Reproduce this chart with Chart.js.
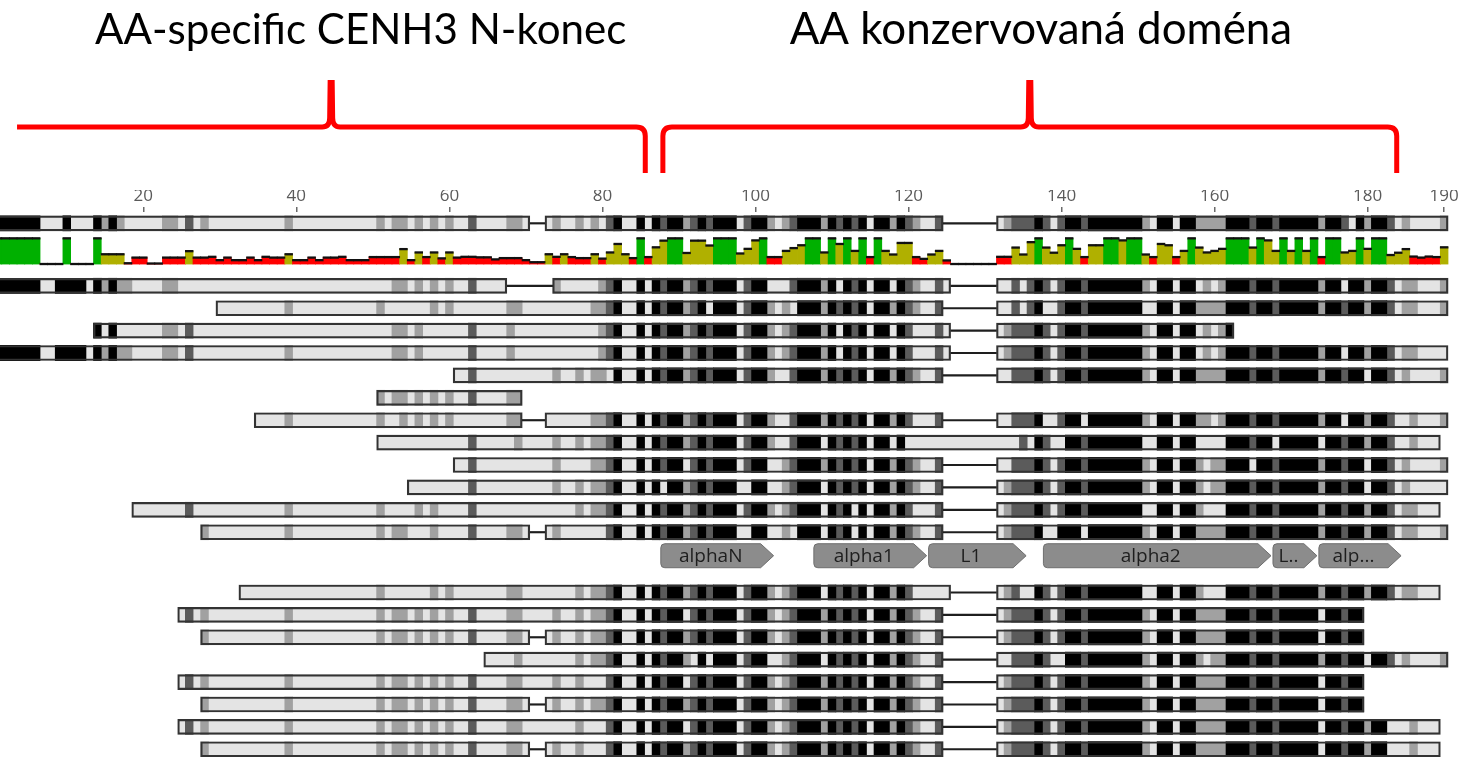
<!DOCTYPE html>
<html>
<head>
<meta charset="utf-8">
<title>CENH3 alignment</title>
<script src="https://cdn.jsdelivr.net/npm/chart.js@4.4.1/dist/chart.umd.min.js"></script>
<style>
  html, body { margin: 0; padding: 0; background: #fff; overflow: hidden; }
  #wrap { width: 1473px; height: 757px; }
</style>
</head>
<body>
<div id="wrap"><canvas id="aln" width="1473" height="757"></canvas></div>
<script>
// ---- data ----
const positionCount = 190;
const tickValues = [20, 40, 60, 80, 100, 120, 140, 160, 180, 190];

// % identity per column (1..190)
const identity = [
  100,100,100,100,100,100,0,0,0,100,
  0,0,0,100,38,38,38,3,25,25,
  2,2,25,25,25,50,25,25,28,15,
  25,15,15,25,15,28,25,25,38,15,
  15,25,15,25,25,28,15,15,15,27,
  27,27,27,58,15,45,27,45,22,45,
  25,28,28,26,26,18,23,23,23,15,
  7,7,38,28,38,27,23,23,38,21,
  45,78,38,23,100,27,65,91,100,100,
  43,91,91,72,100,100,100,41,59,92,
  100,27,27,51,62,73,100,100,45,100,
  78,100,51,100,27,100,51,37,82,82,
  27,20,37,51,14,0,0,0,0,0,
  0,28,28,64,37,85,100,64,44,73,
  100,59,27,73,73,100,100,92,100,100,
  37,27,78,73,27,51,100,64,45,51,
  59,100,100,100,64,100,92,51,100,51,
  100,51,100,27,100,100,45,51,100,59,
  100,100,35,44,58,29,25,29,27,65
];

// shading per column: K black, D dark grey, M grey, L light grey, - gap, . no sequence
const consensus =
  "KKKKKKLLLK LLLKMKMLLL LLMMLDLMLL LLLLLLLLML LLLLLLLLLL MLMMLMLMLM LLDLLLLMML --LMLLMLML DKLLKLKDKK MDKDKKKLDK KMLMDKKKMK DKDKLKKMKD MLLD------ -LMDDDKDLD KKDKKKKKKK MLKKLKKMMM MKKKDKKDKK KKKMKKDLKM KKDLMLLLLM";

const groupOne = [
  "KKKKKKLLKK KKLKMKMMLL LLMMLLLLLL LLLLLLLLLL LLLLLLLLLL LLMMLMLMLM LLDLLLL--- ---MLLLLLM DKLLKLKDKK MDKDKKKLDK KLLLDKKKMK LKDKLKKLKD MLLDL----- -LLDLDKDLD KKDKKKKKKK MLKKLKKLML MKKKDKKDKK KKKMKKLKKM KKDLMMLLLM",
  ".......... .......... .........L LLLLLLLLML LLLLLLLLLL MLLLLLLMLM LLLLLLLMML LLLLLLLLMM DKLLKLKDKK MDKLKKKLDK KMLMLKKKMK DKDKLKKMKD MLLD------ -LLDLDKLLD KKDKKKKKKK LLKKLKKMMM MKKKDKKDKK KKKMKKDKKM KKDLMMLLLM",
  ".......... ...KLKLLLL LLMMLDLLLL LLLLLLLLLL LLLLLLLLLL LLMMLMLLLL LLDLLLLMLL LLLLLLLLLM DKLLKLKDKK MDKDKKKLDK KMLMDKKKMK LKDKLKKLKD LLLDL----- -LMDDDKDLD KKDKKKKKKK MLKKLKKLML MK........",
  "KKKKKKLLKK KKLKMKMMLL LLMMLDLLLL LLLLLLLLML LLLLLLLLLL LLMMLMLLLL LLDLLLLMLL LLLLLLLLLM DKLLKLKDKK MDKDKKKLDK KMLMDKKKMK LKDKLKKLKD LLLDL----- -LMDDDKDLD KKDKKKKKKK MLKKLKKLML MKKKDKKDKK KKKMKKLKKM KKDLMMLLLL",
  ".......... .......... .......... .......... .......... .......... LLDLLLLLLL LLLMLLMLMM LKLLKLKDKK MDKDKKKLDK KMLLDKKKMK DKDKLKKMKD MLLD------ -LLDDDKDLD KKDKKKKKKK MLKKLKKMMM MKKKDKKDKK KKKMKKDKKL KKDLMLLLLM",
  ".......... .......... .......... .......... .......... MLMMLMLMLM LLDLLLLMM.",
  ".......... .......... .......... ....LLLLML LLLLLLLLLL MLLMLMLMLM LLLLLLLMM- --LLLLLLMM DKLLKLKDKK MDKDKKKLDK KMLLDKKKMK DKDKLKKMKD LLLD------ -LLDDDKLLD KKLKKKKKKK MLKKLKKMML MKKKDKKDKK KKKMKKLKKM KKDLLMLLLM",
  ".......... .......... .......... .......... .......... LLLLLLLLLL LLDLLLLLML LLLMLLMLMM DKLLKLKDKK MDKDKKKLDK KMLLDKKKLK DKDKLKKLKL LLLLLLLLLL LLLLDLKDLL KKDKKKKKKK LLKKLKKLLL LKKKDKKLKK KKKLKKDKKM KKDLLMLLL.",
  ".......... .......... .......... .......... .......... .......... LLDLLLLLLL LLLMLLLLMM DKLLKLKDKK LDKDKKKLDK KLLMDKKKMK DKDKLKKMKD MLLD------ -LLDDDKDLD KKDKKKKKKK MLKKLKKMLM MKKKLKKDKK KKKMKKDKKL KKDLMLLLLM",
  ".......... .......... .......... .......... .......... ....LLLLLL LLDLLLLLLL LLLMLLMLMM DKLLKLKLKK MDKDKKKLLK KLLMDKKKLK DKDKLKKMKD MLLD------ -LMDDDKDLD KKDKKKKKKK MLKKLKKMLM MKKKDKKDKK KKKMKKDKKL KKDLMLLLLL",
  ".......... ........LL LLLLLDLLLL LLLLLLLLML LLLLLLLLLL MLLLLMLMLL LLDLLLLLLL LLLLLLMLMM DKLLKLKDKK MDKDKKKLDK KMLMDKKKLK DKLKLKKMKD LLLD------ -LMDDDKDLD KKDKKKKKKK LLKKLKKMLL LKKKDKKDKK KKKMKKDKKM KKDLMMLLL.",
  ".......... .......... .......MLL LLLLLLLLML LLLLLLLLLL MLMMLLLMLL LLDLLLLMML --LMLLLLLL DKLLKLKDKK MDKDKKKLLK KLLMLKKKLK DKLKLKKMKD MLLD------ -LMDDDKLLK KKLKKKKKKK MLKKLKKMMM MKKKDKKDKK KKKMKKDKKM KKDLMMLLLM"
];

const groupTwo = [
  ".......... .......... .......... ..LLLLLLLL LLLLLLLLLL MLLLLLLMLM LLLLLLLMML LLLLLLMLMM DKLLKLKDKK MDKDKKKLDK KMLMDKKKLK DKDKLKKMKD LLLLL----- -LMDLLKDLD KKDKKKKKKK LLKKLKKMLL LKKKDKKDKK KKKMKKDKKM KKDLMMLLL.",
  ".......... .......... ....LDLMLL LLLLLLLLML LLLLLLLLLL MLMMLMLMLM LLDLLLLMML LLLMLLMLMM DKLLKLKDKK LDKDKKKLDK KMLMDKKKMK DKDKLKKMKD MLLD------ -LMDDDKDLD KKDKKKKKKK MLKKLKKMMM MKKKDKKDKK KKKLKKDKK.",
  ".......... .......... .......MLL LLLLLLLLML LLLLLLLLLL MLMMLMLMLM LLDLLLLMML --LMLLMLMM DKLLKLKDKK MDKDKKKLDK KMLMDKKKMK DKDKLKKMKD MLLD------ -LMDDDKDLD KKDKKKKKKK MLKKLKKMMM MKKKDKKDKK KKKLKKDKK.",
  ".......... .......... .......... .......... .......... .......... ....LLLLML LLLLLLMLMM DKLLKLKDKK MLKLKKKLDK KLLMDKKKLK DKDKLKKMKD MLLD------ -LLDDDKDLL KKDKKKKKKK MLKKLKKMLM MKKKDKKDKK KKKMKKDKKL KKDLMLLLLM",
  ".......... .......... ....LDLMLL LLLLLLLLML LLLLLLLLLL MLMMLMLMLM LLDLLLLMML LLLMLLMLLL DKLLKLKDKK LDKDKKKLDK KMLMDKKKMK DKDKLKKMKD MLLD------ -LMDDDKDLD KKDKKKKKKK MLKKLKKMMM MKKKDKKDKK KKKLKKDKK.",
  ".......... .......... .......MLL LLLLLLLLML LLLLLLLLLL MLMMLMLMLM LLDLLLLMML --LMLLMLMM DKLLKLKDKK MDKDKKKLDK KMLMDKKKMK DKDKLKKMKD MLLD------ -LMDDDKDLD KKDKKKKKKK MLKKLKKMMM MKKKDKKDKK KKKLKKDKK.",
  ".......... .......... ....LDLMLL LLLLLLLLML LLLLLLLLLL MLMMLMLMLM LLDLLLLMML LLLLLLMLLL DKLLKLKDKK LDKDKKKLDK KMLMDKKKMK DKDKLKKMKD MLLD------ -LMDDDKDLD KKDKKKKKKK MLKKLKKMMM MKKKDKKDKK KKKLKKDKKM KKLLLMLLL.",
  ".......... .......... .......MLL LLLLLLLLML LLLLLLLLLL MLMMLMLMLM LLDLLLLMML --LMLLMLLL DKLLKLKDKK MDKDKKKLDK KMLMDKKKMK DKDKLKKMKD MLLD------ -LMDDDKDLD KKDKKKKKKK MLKKLKKMMM MKKKDKKDKK KKKLKKDKKM KKLLLMLLL."
];

// secondary structure annotations (first/last column)
const annotLabels = ["alphaN", "alpha1", "L1", "alpha2", "L..", "alp..."];
const annotFrom = [88, 108, 123, 138, 168, 174];
const annotTo = [102, 122, 135, 167, 173, 184];

// region braces (column edges)
const regionLabels = ["AA-specific CENH3 N-konec", "AA konzervovaná doména"];
const regionFrom = [3.5, 87.9];
const regionTo = [85.6, 183.8];

// ---- layout (not data) ----
const X_MIN = 1.273, X_MAX = 193.77;
const Y_MIN = -3.295, Y_MAX = 21.035;
const CONS_Y = -2.79, ID_BASE = -0.973, ID_FULL = 1.147, ID_LINE = 0.067;
const ANNOT_Y = 12.05, GROUP2_Y = 13.69;
const titleCenters = [48.4, 137.3];

const SHADES = { K: '#000000', D: '#5b5b5b', M: '#a1a1a1', L: '#e4e4e4' };
const GREEN = '#00b000', OLIVE = '#b0b000', RED = '#ff0000';

function clean(s) {
  s = s.replace(/\s+/g, '');
  while (s.length < positionCount) s += '.';
  return s.slice(0, positionCount);
}

const rows = [{ y: CONS_Y, s: consensus }]
  .concat(groupOne.map((s, i) => ({ y: i, s: s })))
  .concat(groupTwo.map((s, j) => ({ y: GROUP2_Y + j, s: s })));

const cellData = { K: [], D: [], M: [], L: [] };
const boxData = [];
const gapData = [];

rows.forEach(r => {
  const s = clean(r.s);
  let i = 0;
  while (i < s.length) {
    const c = s[i];
    let j = i;
    while (j + 1 < s.length && s[j + 1] === c) j++;
    const from = i + 0.5, to = j + 1.5;
    if (SHADES[c]) cellData[c].push({ x: [from, to], y: r.y });
    else if (c === '-') gapData.push({ x: [from, to], y: r.y });
    i = j + 1;
  }
  // outline around each continuous stretch of residues
  i = 0;
  while (i < s.length) {
    if (SHADES[s[i]]) {
      let j = i;
      while (j + 1 < s.length && SHADES[s[j + 1]]) j++;
      boxData.push({ x: [i + 0.5, j + 1.5], y: r.y });
      i = j + 1;
    } else {
      i++;
    }
  }
});

const rowBar = {
  type: 'bar', indexAxis: 'y', xAxisID: 'xc', yAxisID: 'y',
  grouped: false, barPercentage: 1, categoryPercentage: 1
};

const datasets = [];

// outlines on top
datasets.push(Object.assign({}, rowBar, {
  data: boxData,
  backgroundColor: 'rgba(0,0,0,0)',
  borderColor: '#333333',
  borderWidth: 1.5,
  borderSkipped: false,
  maxBarThickness: 15,
  order: 1
}));

datasets.push(Object.assign({}, rowBar, {
  data: gapData,
  backgroundColor: '#1e1e1e',
  borderWidth: 0,
  maxBarThickness: 1.5,
  order: 2
}));

Object.keys(SHADES).forEach(k => {
  datasets.push(Object.assign({}, rowBar, {
    data: cellData[k],
    backgroundColor: SHADES[k],
    borderWidth: 0,
    inflateAmount: 0.4,
    maxBarThickness: 15,
    order: 3
  }));
});

// identity graph: top edge line, then the coloured columns
const idTop = v => ID_BASE - ID_FULL * v / 100;

datasets.push({
  type: 'bar',
  xAxisID: 'x', yAxisID: 'y2',
  data: identity.map((v, i) => ({ x: i + 1, y: [idTop(v) + ID_LINE / 2, idTop(v) - ID_LINE / 2] })),
  backgroundColor: '#111111',
  borderWidth: 0,
  inflateAmount: 0.4,
  grouped: false, barPercentage: 1, categoryPercentage: 1,
  order: 2
});

datasets.push({
  type: 'bar',
  xAxisID: 'x', yAxisID: 'y2',
  data: identity.map((v, i) => ({ x: i + 1, y: [ID_BASE, idTop(v)] })),
  backgroundColor: identity.map(v => v >= 100 ? GREEN : v >= 30 ? OLIVE : RED),
  borderWidth: 0,
  inflateAmount: 0.4,
  grouped: false, barPercentage: 1, categoryPercentage: 1,
  order: 3
});

function drawTag(ctx, x0, x1, yc, h, label) {
  const tip = Math.min(13, (x1 - x0) / 3);
  const r = 4, top = yc - h / 2, bot = yc + h / 2;
  ctx.beginPath();
  ctx.moveTo(x0 + r, top);
  ctx.lineTo(x1 - tip, top);
  ctx.lineTo(x1, yc);
  ctx.lineTo(x1 - tip, bot);
  ctx.lineTo(x0 + r, bot);
  ctx.quadraticCurveTo(x0, bot, x0, bot - r);
  ctx.lineTo(x0, top + r);
  ctx.quadraticCurveTo(x0, top, x0 + r, top);
  ctx.closePath();
  ctx.fillStyle = '#8c8c8c';
  ctx.fill();
  ctx.strokeStyle = '#6e6e6e';
  ctx.lineWidth = 1;
  ctx.stroke();
  ctx.fillStyle = '#1e1e1e';
  ctx.font = '19px "Open Sans"';
  ctx.textAlign = 'center';
  ctx.textBaseline = 'middle';
  ctx.fillText(label, (x0 + x1 - tip) / 2, yc + 1);
}

function drawBrace(ctx, xa, xb, hookLeft, hookRight) {
  const yLine = 127, yTop = 80, yBottom = 173, r = 9;
  const xm = (xa + xb) / 2;
  ctx.strokeStyle = '#ff0000';
  ctx.lineWidth = 5;
  ctx.lineJoin = 'round';
  ctx.lineCap = 'butt';
  ctx.beginPath();
  if (hookLeft) {
    ctx.moveTo(xa, yBottom);
    ctx.lineTo(xa, yLine + r);
    ctx.quadraticCurveTo(xa, yLine, xa + r, yLine);
  } else {
    ctx.moveTo(xa, yLine);
  }
  ctx.lineTo(xm - r, yLine);
  ctx.quadraticCurveTo(xm - 1.5, yLine, xm - 1.5, yLine - r);
  ctx.lineTo(xm - 1, yTop);
  ctx.stroke();
  ctx.beginPath();
  ctx.moveTo(xm + 1, yTop);
  ctx.lineTo(xm + 1.5, yLine - r);
  ctx.quadraticCurveTo(xm + 1.5, yLine, xm + r, yLine);
  if (hookRight) {
    ctx.lineTo(xb - r, yLine);
    ctx.quadraticCurveTo(xb, yLine, xb, yLine + r);
    ctx.lineTo(xb, yBottom);
  } else {
    ctx.lineTo(xb, yLine);
  }
  ctx.stroke();
}

const overlayPlugin = {
  id: 'overlay',
  beforeDraw(chart) {
    const ctx = chart.ctx;
    ctx.save();
    ctx.fillStyle = '#ffffff';
    ctx.fillRect(0, 0, chart.width, chart.height);
    ctx.restore();
  },
  afterDraw(chart) {
    const ctx = chart.ctx;
    const xs = chart.scales.x, ys = chart.scales.y;
    ctx.save();

    // region titles and braces
    regionLabels.forEach((label, i) => {
      const xa = xs.getPixelForValue(regionFrom[i]);
      const xb = xs.getPixelForValue(regionTo[i]);
      drawBrace(ctx, xa, xb, i > 0, true);
      ctx.font = '40px Lato';
      const w = ctx.measureText(label).width;
      const target = i === 0 ? 532 : 503;
      const size = 40 * target / w;
      ctx.font = size.toFixed(1) + 'px Lato';
      ctx.fillStyle = '#000000';
      ctx.textAlign = 'center';
      ctx.textBaseline = 'alphabetic';
      ctx.fillText(label, xs.getPixelForValue(titleCenters[i]), 44);
    });

    // annotation tags
    const yc = ys.getPixelForValue(ANNOT_Y);
    annotLabels.forEach((label, i) => {
      const x0 = xs.getPixelForValue(annotFrom[i] - 0.5) + 1;
      const x1 = xs.getPixelForValue(annotTo[i] + 0.5) - 1;
      drawTag(ctx, x0, x1, yc, 24, label);
    });
    ctx.restore();
  }
};

new Chart(document.getElementById('aln'), {
  type: 'bar',
  data: { datasets: datasets },
  plugins: [overlayPlugin],
  options: {
    responsive: false,
    devicePixelRatio: 1,
    animation: false,
    events: [],
    layout: { padding: { top: 190, left: 0, right: 0, bottom: 0 } },
    plugins: {
      legend: { display: false },
      tooltip: { enabled: false },
      title: { display: false }
    },
    scales: {
      x: {
        type: 'linear', position: 'top', min: X_MIN, max: X_MAX, offset: false,
        afterBuildTicks: s => { s.ticks = tickValues.map(v => ({ value: v })); },
        afterFit: s => { s.height = 22; },
        ticks: {
          font: { family: '"Open Sans"', size: 17 },
          color: '#5a5a5a', padding: 1, maxRotation: 0, autoSkip: false
        },
        grid: { drawOnChartArea: false, drawTicks: true, tickLength: 5, color: '#6a6a6a', lineWidth: 1.5, offset: false },
        border: { display: false }
      },
      xc: { type: 'linear', display: false, min: X_MIN, max: X_MAX, offset: false },
      y: {
        type: 'linear', display: false, reverse: true, min: Y_MIN, max: Y_MAX, offset: false,
        afterBuildTicks: s => { s.ticks = [{ value: 0 }]; }
      },
      y2: { type: 'linear', display: false, reverse: true, min: Y_MIN, max: Y_MAX, offset: false }
    }
  }
});
</script>
</body>
</html>
